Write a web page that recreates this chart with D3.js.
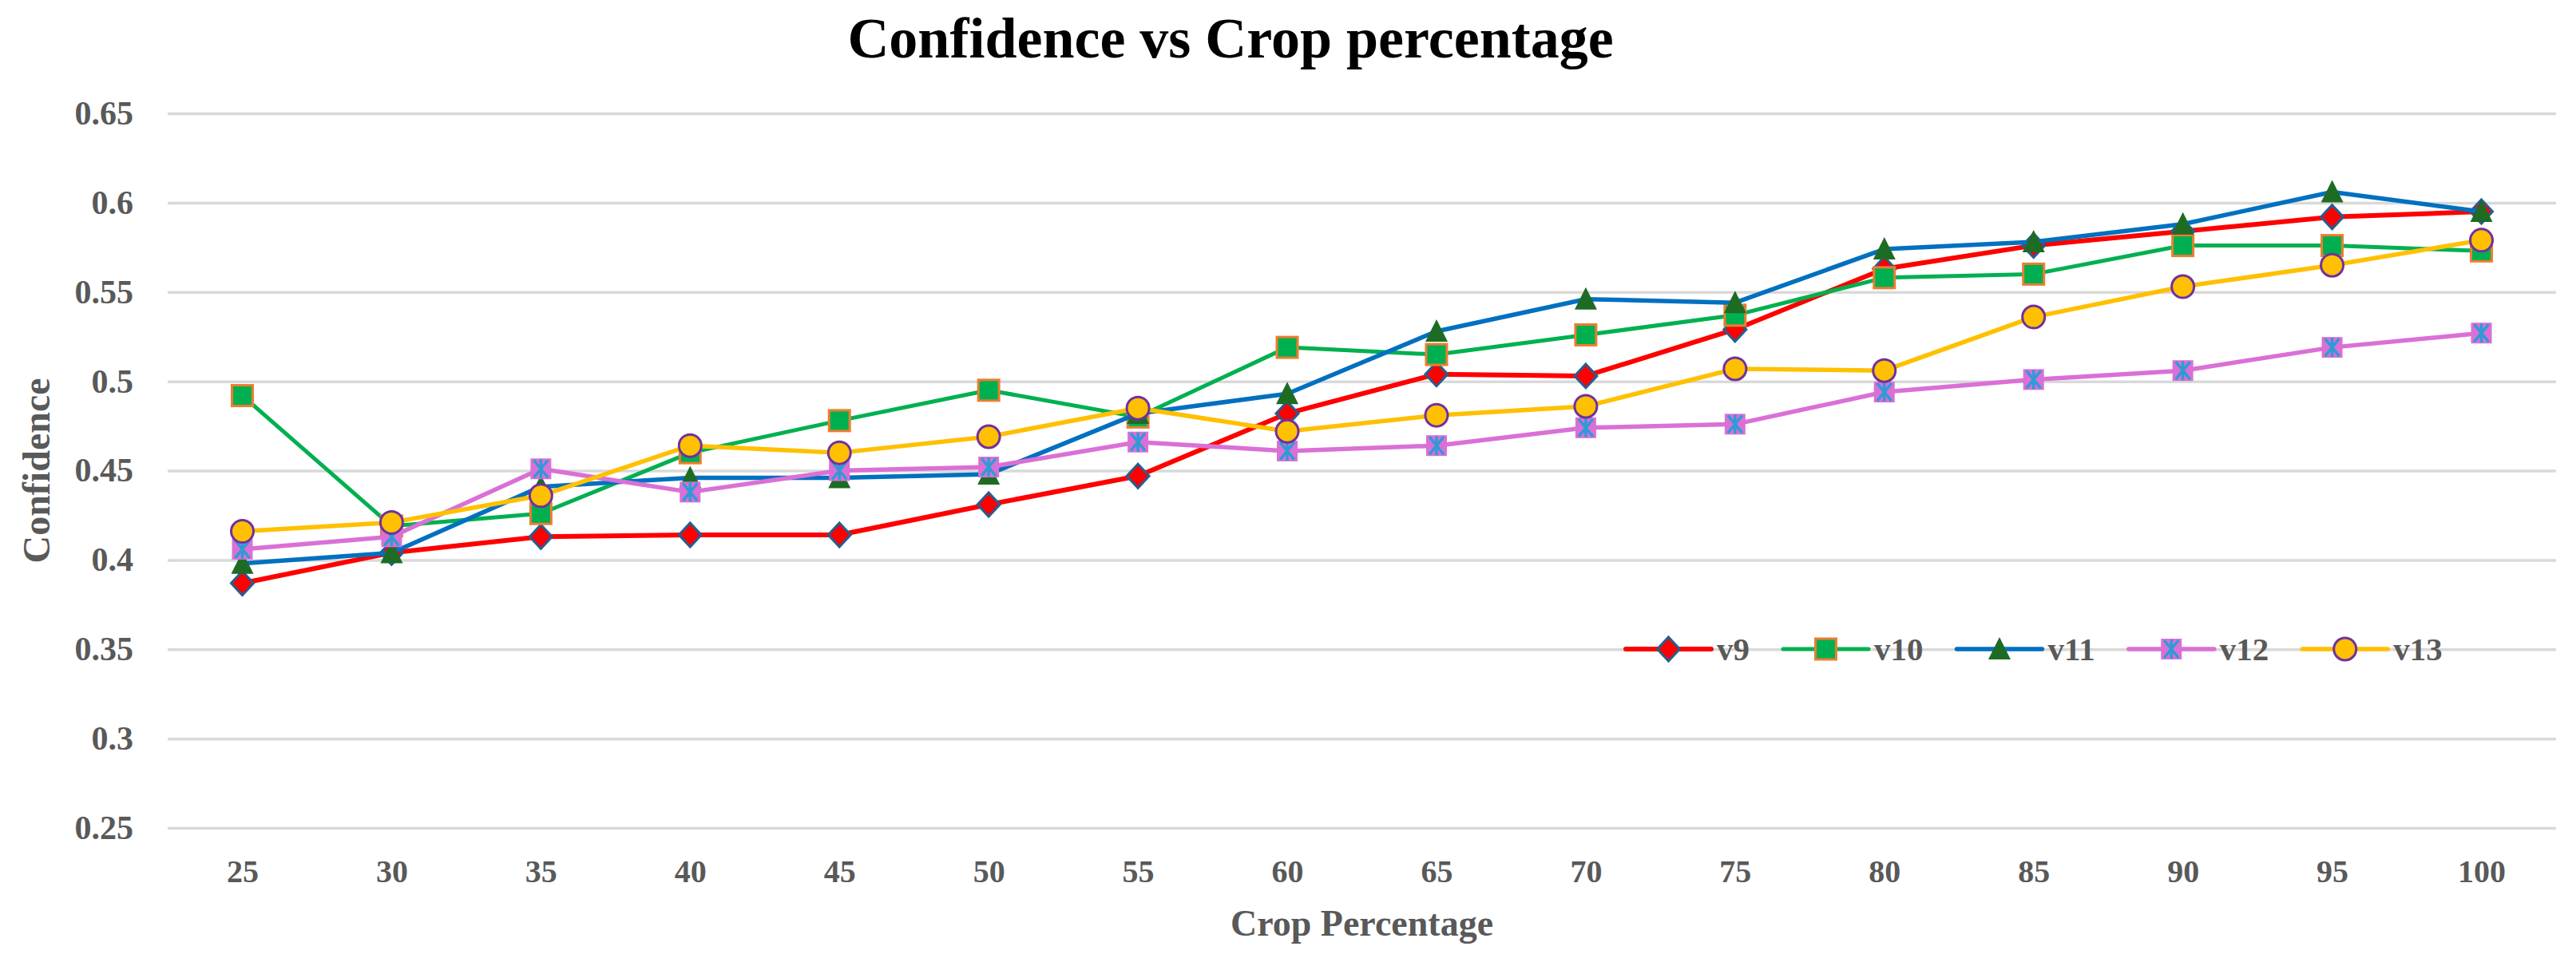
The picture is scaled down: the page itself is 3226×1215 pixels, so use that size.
<!DOCTYPE html>
<html>
<head>
<meta charset="utf-8">
<script src="https://cdn.jsdelivr.net/npm/d3@7"></script>
<style>
  body { margin: 0; background: #fff; }
  text { font-family: "Liberation Serif", "DejaVu Serif", serif; font-weight: bold; }
</style>
</head>
<body>
<div id="chart"></div>
<script>
// x categories (crop percentage)
var cropPct = [25, 30, 35, 40, 45, 50, 55, 60, 65, 70, 75, 80, 85, 90, 95, 100];

// confidence per model version
var v9  = [0.387, 0.404, 0.413, 0.414, 0.414, 0.431, 0.447, 0.482, 0.504, 0.503, 0.529, 0.563, 0.576, 0.584, 0.592, 0.595];
var v10 = [0.492, 0.419, 0.426, 0.460, 0.478, 0.495, 0.480, 0.519, 0.515, 0.526, 0.537, 0.558, 0.560, 0.576, 0.576, 0.573];
var v11 = [0.398, 0.404, 0.441, 0.446, 0.446, 0.448, 0.482, 0.493, 0.528, 0.546, 0.544, 0.574, 0.578, 0.588, 0.606, 0.595];
var v12 = [0.406, 0.413, 0.451, 0.438, 0.450, 0.452, 0.466, 0.461, 0.464, 0.474, 0.476, 0.494, 0.501, 0.506, 0.519, 0.527];
var v13 = [0.416, 0.421, 0.436, 0.464, 0.460, 0.469, 0.485, 0.472, 0.481, 0.486, 0.507, 0.506, 0.536, 0.553, 0.565, 0.579];

var seriesNames = ["v9", "v10", "v11", "v12", "v13"];
var seriesValues = [v9, v10, v11, v12, v13];

// y axis ticks
var yTicks = [0.25, 0.3, 0.35, 0.4, 0.45, 0.5, 0.55, 0.6, 0.65];
var yTickLabels = ["0.25", "0.3", "0.35", "0.4", "0.45", "0.5", "0.55", "0.6", "0.65"];

// look of each series (line colour, marker shape + colours)
var seriesStyle = {
  v9:  { line: "#ff0000", width: 6,   shape: "diamond",  fill: "#ff0000", stroke: "#255e91" },
  v10: { line: "#00b050", width: 5,   shape: "square",   fill: "#00b050", stroke: "#ed7d31" },
  v11: { line: "#0070c0", width: 5.5, shape: "triangle", fill: "#1e6b24", stroke: "none" },
  v12: { line: "#da70d6", width: 5.5, shape: "star",     fill: "#da70d6", stroke: "#2e9bd6" },
  v13: { line: "#ffc000", width: 5.5, shape: "circle",   fill: "#ffc000", stroke: "#7030a0" }
};

var width = 3226;
var height = 1215;

// plot area
var plotLeft = 210, plotRight = 3201, plotTop = 142, plotBottom = 1037;

var svg = d3.select("#chart")
  .append("svg")
  .attr("width", width)
  .attr("height", height);

svg.append("rect").attr("width", width).attr("height", height).attr("fill", "#fff");

var xScale = d3.scalePoint()
  .domain(cropPct)
  .range([plotLeft, plotRight])
  .padding(0.5);

var yScale = d3.scaleLinear()
  .domain([0.25, 0.65])
  .range([plotBottom, plotTop]);

// gridlines + y labels
var yAxis = d3.axisLeft(yScale)
  .tickValues(yTicks)
  .tickSize(-(plotRight - plotLeft))
  .tickPadding(43)
  .tickFormat(function(d, i) { return yTickLabels[i]; });

var yG = svg.append("g")
  .attr("class", "yAxis")
  .attr("transform", "translate(" + plotLeft + ",0)")
  .call(yAxis);
yG.select(".domain").remove();
yG.selectAll("line").attr("stroke", "#d9d9d9").attr("stroke-width", 3.5);
yG.selectAll("text").attr("font-size", 42).attr("fill", "#595959");

// x labels
var xAxis = d3.axisBottom(xScale).tickSize(0).tickPadding(40);
var xG = svg.append("g")
  .attr("class", "xAxis")
  .attr("transform", "translate(0," + plotBottom + ")")
  .call(xAxis);
xG.select(".domain").remove();
xG.selectAll("text").attr("font-size", 40).attr("fill", "#595959");

// titles
svg.append("text")
  .attr("x", 1541)
  .attr("y", 72)
  .attr("text-anchor", "middle")
  .attr("font-size", 72)
  .attr("fill", "#000")
  .text("Confidence vs Crop percentage");

svg.append("text")
  .attr("x", (plotLeft + plotRight) / 2)
  .attr("y", 1172)
  .attr("text-anchor", "middle")
  .attr("font-size", 46)
  .attr("fill", "#595959")
  .text("Crop Percentage");

svg.append("text")
  .attr("transform", "translate(62," + (plotTop + plotBottom) / 2 + ")rotate(-90)")
  .attr("text-anchor", "middle")
  .attr("font-size", 48)
  .attr("fill", "#595959")
  .text("Confidence");

// marker drawing
function drawMarker(g, st) {
  if (st.shape === "diamond") {
    g.append("path").attr("d", "M0,-15L14,0L0,15L-14,0Z")
      .attr("fill", st.fill).attr("stroke", st.stroke).attr("stroke-width", 3);
  } else if (st.shape === "square") {
    g.append("rect").attr("x", -13).attr("y", -13).attr("width", 26).attr("height", 26)
      .attr("fill", st.fill).attr("stroke", st.stroke).attr("stroke-width", 3);
  } else if (st.shape === "triangle") {
    g.append("path").attr("d", "M0,-15L14,13L-14,13Z").attr("fill", st.fill);
  } else if (st.shape === "star") {
    g.append("rect").attr("x", -13).attr("y", -13).attr("width", 26).attr("height", 26)
      .attr("fill", st.fill);
    g.append("path").attr("d", "M0,-12L0,12M-9,-11L9,11M9,-11L-9,11")
      .attr("fill", "none").attr("stroke", st.stroke).attr("stroke-width", 3.5);
  } else {
    g.append("circle").attr("r", 14)
      .attr("fill", st.fill).attr("stroke", st.stroke).attr("stroke-width", 3);
  }
}

var line = d3.line()
  .x(function(d, i) { return xScale(cropPct[i]); })
  .y(function(d) { return yScale(d); });

// each series: line then markers, in order
seriesNames.forEach(function(name, k) {
  var st = seriesStyle[name];
  var g = svg.append("g").attr("class", "series " + name);
  g.append("path")
    .datum(seriesValues[k])
    .attr("d", line)
    .attr("fill", "none")
    .attr("stroke", st.line)
    .attr("stroke-width", st.width)
    .attr("stroke-linejoin", "round")
    .attr("stroke-linecap", "round");
  g.selectAll("g.pt")
    .data(seriesValues[k])
    .enter()
    .append("g")
    .attr("class", "pt")
    .attr("transform", function(d, i) {
      return "translate(" + xScale(cropPct[i]) + "," + yScale(d) + ")";
    })
    .each(function() { drawMarker(d3.select(this), st); });
});

// legend sitting on the 0.35 gridline
var legX = 2036;
var legY = 813;
seriesNames.forEach(function(name) {
  var st = seriesStyle[name];
  var lg = svg.append("g").attr("class", "legend");
  lg.append("line")
    .attr("x1", legX).attr("x2", legX + 107)
    .attr("y1", legY).attr("y2", legY)
    .attr("stroke", st.line).attr("stroke-width", st.width)
    .attr("stroke-linecap", "round");
  drawMarker(lg.append("g").attr("transform", "translate(" + (legX + 53.5) + "," + legY + ")"), st);
  var t = lg.append("text")
    .attr("x", legX + 114)
    .attr("y", legY)
    .attr("dy", "0.35em")
    .attr("font-size", 41)
    .attr("fill", "#595959")
    .text(name);
  legX = legX + 114 + t.node().getComputedTextLength() + 42;
});
</script>
</body>
</html>
